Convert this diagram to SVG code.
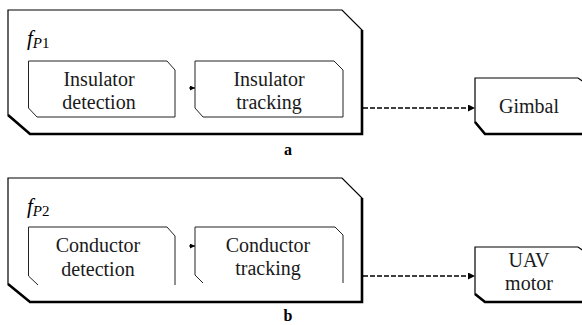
<svg xmlns="http://www.w3.org/2000/svg" width="582" height="325" viewBox="0 0 582 325">
<defs>
<style>
.bg{fill:#fff}
.outer{fill:#fff;stroke:#000;stroke-width:1.2}
.thick{fill:none;stroke:#000;stroke-width:2.6}
.inner{fill:none;stroke:#222;stroke-width:1}
.t{font-family:"Liberation Serif","Times New Roman",serif;font-size:20px;fill:#1a1a1a;text-anchor:middle}
.f{font-family:"Liberation Serif","Times New Roman",serif;font-size:21px;font-style:italic;fill:#000}
.lab{font-family:"Liberation Serif","Times New Roman",serif;font-size:16px;font-weight:bold;fill:#000;text-anchor:middle}
.dash{fill:none;stroke:#000;stroke-width:1.4;stroke-dasharray:5 2}
.solid{fill:none;stroke:#000;stroke-width:1}
</style>
<marker id="ah" viewBox="0 0 10 10" refX="10" refY="5" markerWidth="7" markerHeight="7" markerUnits="userSpaceOnUse" orient="auto">
<path d="M0,0 L10,5 L0,10 Z" fill="#000"/>
</marker>
<marker id="ahs" viewBox="0 0 10 10" refX="10" refY="5" markerWidth="5" markerHeight="5" markerUnits="userSpaceOnUse" orient="auto">
<path d="M0,0 L10,5 L0,10 Z" fill="#000"/>
</marker>
</defs>
<rect class="bg" x="0" y="0" width="582" height="325"/>

<g id="panelA">
<g id="fP1">
<path class="outer" d="M8,10 H342 L362,30 V134 H30 L8,115 Z"/>
<path class="thick" d="M362,30 V134 H30 L8,115"/>
<text class="f" x="27" y="45">f<tspan font-size="15" dy="3">P</tspan><tspan font-size="15" font-style="normal">1</tspan></text>
</g>
<g id="insDet">
<path class="inner" d="M28.5,61 H167 L175,70 V117 H37 L28.5,108 Z"/>
<text class="t" x="99" y="86">Insulator</text>
<text class="t" x="99" y="109">detection</text>
</g>
<g id="insTrk">
<path class="inner" d="M195,61 H334 L343,70 V117 H203 L195,108 Z"/>
<text class="t" x="269" y="86">Insulator</text>
<text class="t" x="269" y="109">tracking</text>
</g>
<g id="gimbal">
<path class="outer" d="M584,82 L578,78 H475 V122 L485,134 H584"/>
<path class="thick" d="M475,122 L485,134 H584"/>
<text class="t" x="529" y="113">Gimbal</text>
</g>
<text class="lab" x="288" y="155">a</text>
</g>

<g id="panelB">
<g id="fP2">
<path class="outer" d="M8,178 H342 L362,198 V302 H30 L8,284 Z"/>
<path class="thick" d="M362,198 V302 H30 L8,284"/>
<text class="f" x="27" y="213">f<tspan font-size="15" dy="3">P</tspan><tspan font-size="15" font-style="normal">2</tspan></text>
</g>
<g id="condDet">
<path class="inner" d="M175,285 V236 L167,227 H28.5 V276 L38,285"/>
<text class="t" x="98" y="252">Conductor</text>
<text class="t" x="98" y="276">detection</text>
</g>
<g id="condTrk">
<path class="inner" d="M343,283 V235 L335,227 H195 V275 L203,283"/>
<text class="t" x="268" y="252">Conductor</text>
<text class="t" x="268" y="275">tracking</text>
</g>
<g id="uav">
<path class="outer" d="M584,251 L578,247 H475 V294 L485,302 H584"/>
<path class="thick" d="M475,294 L485,302 H584"/>
<text class="t" x="529" y="267">UAV</text>
<text class="t" x="529" y="290">motor</text>
</g>
<text class="lab" x="288" y="321">b</text>
</g>

<g id="connectors">
<path class="solid" d="M189,88 H195" marker-end="url(#ahs)"/>
<path class="dash" d="M363,108 H475" marker-end="url(#ah)"/>
<path class="solid" d="M189,246 H195" marker-end="url(#ahs)"/>
<path class="dash" d="M363,276 H475" marker-end="url(#ah)"/>
</g>
</svg>
